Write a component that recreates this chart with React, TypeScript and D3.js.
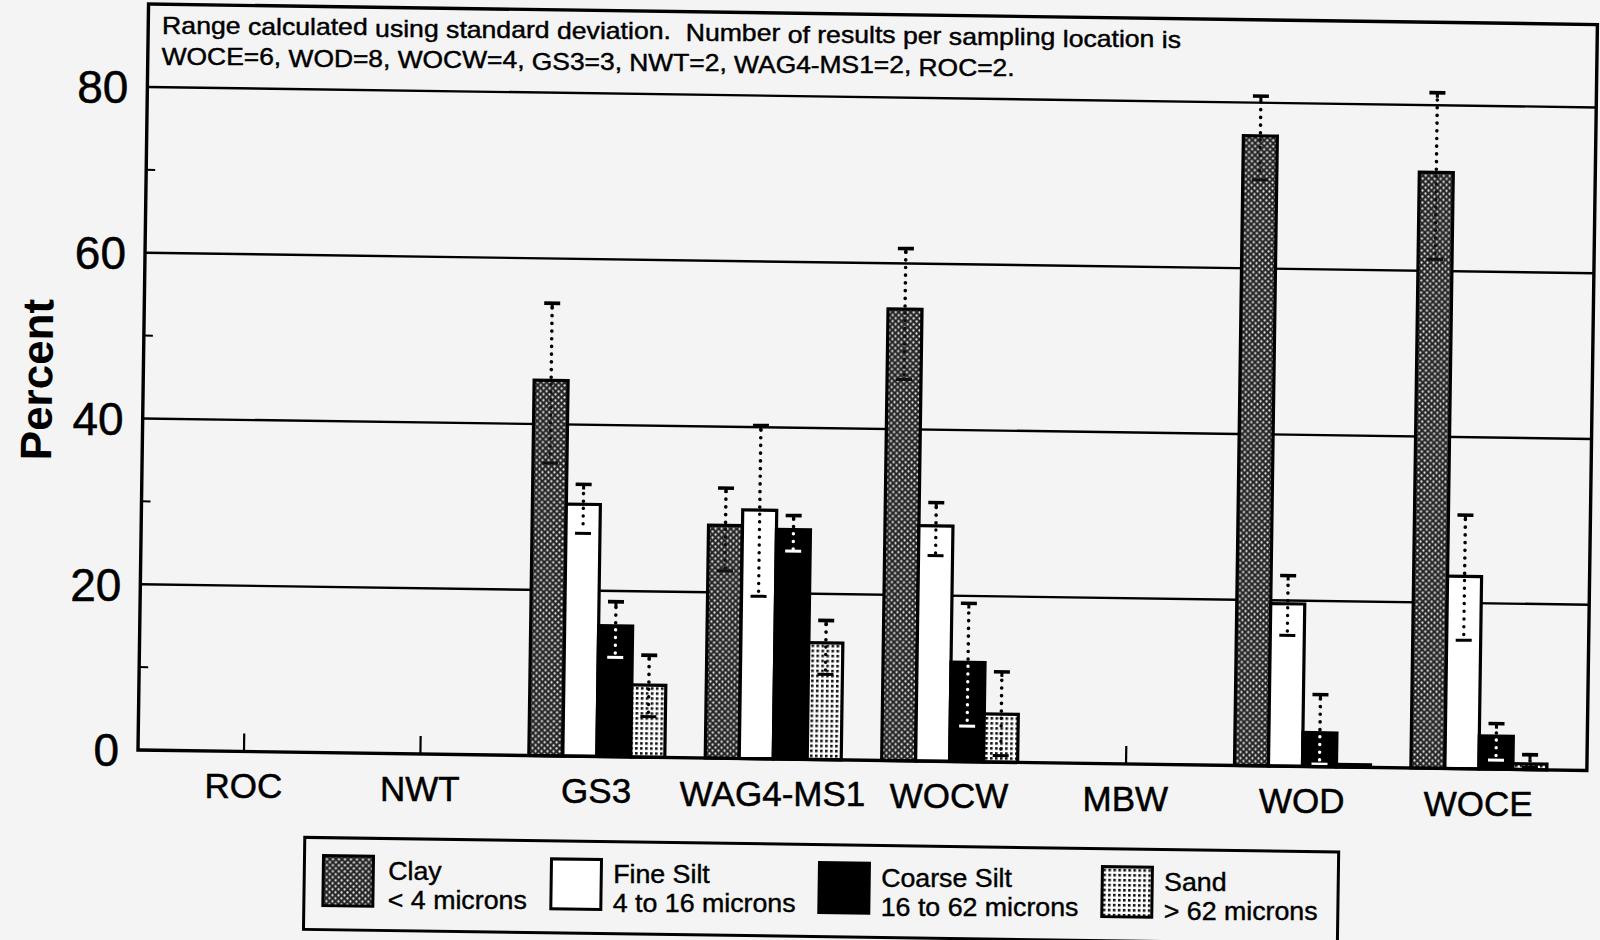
import React from "react";
import * as d3 from "d3";

// ---------- data ----------
const categories = ["ROC", "NWT", "GS3", "WAG4-MS1", "WOCW", "MBW", "WOD", "WOCE"];
const seriesNames = ["Clay", "Fine Silt", "Coarse Silt", "Sand"];
const seriesRanges = ["< 4 microns", "4 to 16 microns", "16 to 62 microns", "> 62 microns"];

// mean percent per location (null = no data)
const clayMean = [null, null, 45.3, 28.1, 54.5, null, 76.0, 71.9];
const clayHigh = [null, null, 54.6, 32.6, 61.8, null, 80.8, 81.5];
const clayLow = [null, null, 35.3, 22.6, 46.0, null, 70.7, 61.4];

const fineMean = [null, null, 30.4, 30.0, 28.4, null, 19.6, 23.2];
const fineHigh = [null, null, 32.8, 40.2, 31.2, null, 23.0, 30.6];
const fineLow = [null, null, 26.9, 19.6, 24.8, null, 15.8, 15.5];

const coarseMean = [null, null, 15.8, 27.7, 12.0, null, 4.1, 4.0];
const coarseHigh = [null, null, 18.7, 29.4, 19.1, null, 8.7, 5.5];
const coarseLow = [null, null, 12.0, 25.1, 4.3, null, 0.3, 1.1];

const sandMean = [null, null, 8.7, 14.1, 5.8, null, 0.3, 0.7];
const sandHigh = [null, null, 12.3, 16.8, 10.9, null, null, 1.8];
const sandLow = [null, null, 4.9, 10.3, 0.8, null, null, 0.3];

const yMajorTicks = [0, 20, 40, 60, 80];
const yMinorTicks = [10, 30, 50, 70];

const noteLines = [
  "Range calculated using standard deviation.  Number of results per sampling location is",
  "WOCE=6, WOD=8, WOCW=4, GS3=3, NWT=2, WAG4-MS1=2, ROC=2.",
];

const means = [clayMean, fineMean, coarseMean, sandMean];
const highs = [clayHigh, fineHigh, coarseHigh, sandHigh];
const lows = [clayLow, fineLow, coarseLow, sandLow];

// ---------- helpers ----------
let ctx: CanvasRenderingContext2D | null = null;
function measure(t: string, f: string): number {
  if (!ctx) ctx = document.createElement("canvas").getContext("2d");
  if (!ctx) return t.length * 10;
  ctx.font = f;
  return ctx.measureText(t).width;
}

// ---------- component ----------
export default function App() {
  const W = 1600;
  const H = 940;
  const left = 138;
  const right = 1587;
  const top = 4;
  const bottom = 750;
  const font = "'Liberation Sans', Arial, Helvetica, sans-serif";

  // scan skew of the original page
  const angle = 0.81;
  const th = (angle * Math.PI) / 180;
  const rot = (px: number, py: number): [number, number] => [
    left + (px - left) * Math.cos(th) - (py - bottom) * Math.sin(th),
    bottom + (px - left) * Math.sin(th) + (py - bottom) * Math.cos(th),
  ];

  const x = d3.scalePoint<string>().domain(categories).range([244, 1479]);
  const y = d3.scaleLinear().domain([0, 90]).range([bottom, top]);
  const sub = d3.scaleBand<string>().domain(seriesNames).range([-68, 68]).padding(0);
  const bw = sub.bandwidth();

  const fills = ["url(#clayPat)", "#ffffff", "#000000", "url(#sandPat)"];
  const innerErr = ["#111", "#000", "#fff", "#000"];

  const legendSwatchX = [325, 553, 821, 1104];
  const legendTextX = [390, 615, 883, 1166];

  // note: word by word along the skewed baseline
  const noteFont = 24;
  const noteFontStr = `${noteFont}px 'Liberation Sans'`;
  const noteX0 = 152;
  const noteBase = [33.6, 64.6];
  const noteWidth = [1019, 853];
  const noteWords: { t: string; x: number; y: number; w: number; k: string }[] = [];
  noteLines.forEach((str, li) => {
    const tokens = str.split(" ");
    const spaceW = measure(" ", noteFontStr);
    const natural = measure(str, noteFontStr);
    const f = noteWidth[li] / natural;
    let cx = 0;
    tokens.forEach((tk, ti) => {
      const w = tk ? measure(tk, noteFontStr) : 0;
      if (tk) {
        const [ax, ay] = rot(noteX0 + cx * f, noteBase[li]);
        noteWords.push({ t: tk, x: ax, y: ay, w: w * f, k: `n${li}_${ti}` });
      }
      cx += w + spaceW;
    });
  });

  const legendFont = 25;
  const legendFontStr = `${legendFont}px 'Liberation Sans'`;

  const textStroke = { stroke: "#000", strokeWidth: 0.5 };

  return (
    <svg
      width={W}
      height={H}
      style={{ position: "absolute", left: 0, top: 0, display: "block" }}
      xmlns="http://www.w3.org/2000/svg"
    >
      <defs>
        <pattern id="clayPat" width="6" height="6" patternUnits="userSpaceOnUse">
          <rect width="6" height="6" fill="#262626" />
          <circle cx="1.5" cy="1.5" r="1.15" fill="#e8e8e8" />
          <circle cx="4.5" cy="4.5" r="1.15" fill="#e8e8e8" />
        </pattern>
        <pattern id="sandPat" width="5" height="5" patternUnits="userSpaceOnUse">
          <rect width="5" height="5" fill="#ffffff" />
          <rect x="0" y="0" width="2.6" height="2.6" fill="#111" />
        </pattern>
      </defs>
      <rect x={0} y={0} width={W} height={H} fill="#f4f4f4" />

      <g transform={`rotate(${angle} ${left} ${bottom})`}>
        {/* gridlines */}
        {yMajorTicks
          .filter((t) => t > 0)
          .map((t) => (
            <line key={"g" + t} x1={left} x2={right} y1={y(t)} y2={y(t)} stroke="#000" strokeWidth={2.4} />
          ))}
        {yMinorTicks.map((t) => (
          <line key={"m" + t} x1={left} x2={left + 9} y1={y(t)} y2={y(t)} stroke="#000" strokeWidth={2} />
        ))}
        {/* category ticks */}
        {categories.map((c) => (
          <line key={"xt" + c} x1={x(c)} x2={x(c)} y1={bottom} y2={bottom - 18} stroke="#000" strokeWidth={2.2} />
        ))}

        {/* bars */}
        {categories.map((c, ci) =>
          seriesNames.map((s, si) => {
            const v = means[si][ci];
            if (v == null) return null;
            const bx = (x(c) as number) + (sub(s) as number);
            return (
              <rect
                key={"b" + c + s}
                x={bx}
                y={y(v)}
                width={bw}
                height={y(0) - y(v)}
                fill={fills[si]}
                stroke="#000"
                strokeWidth={3.2}
              />
            );
          })
        )}

        {/* error bars */}
        {categories.map((c, ci) =>
          seriesNames.map((s, si) => {
            const v = means[si][ci];
            const hi = highs[si][ci];
            const lo = lows[si][ci];
            if (v == null || hi == null || lo == null) return null;
            const cx = (x(c) as number) + (sub(s) as number) + bw / 2;
            const capW = 8;
            return (
              <g key={"e" + c + s}>
                <line x1={cx} x2={cx} y1={y(v) - 3} y2={y(hi) + 3} stroke="#000" strokeWidth={3.6}
                  strokeDasharray="0.1 7.6" strokeLinecap="round" />
                <line x1={cx - capW} x2={cx + capW} y1={y(hi)} y2={y(hi)} stroke="#000" strokeWidth={3.6} />
                <line x1={cx} x2={cx} y1={y(hi)} y2={y(hi) + 5} stroke="#000" strokeWidth={3} />
                <line x1={cx} x2={cx} y1={y(v) + 4} y2={y(lo) - 2} stroke={innerErr[si]} strokeWidth={3.4}
                  strokeDasharray="0.1 7.6" strokeLinecap="round" />
                <line x1={cx - capW} x2={cx + capW} y1={y(lo)} y2={y(lo)} stroke={innerErr[si]} strokeWidth={3} />
              </g>
            );
          })
        )}

        {/* frame */}
        <rect x={left} y={top} width={right - left} height={bottom - top} fill="none" stroke="#000" strokeWidth={3.4} />

        {/* legend box and swatches */}
        <rect x={306} y={835} width={1034} height={92} fill="none" stroke="#000" strokeWidth={3} />
        {seriesNames.map((s, i) => (
          <rect key={"sw" + s} x={legendSwatchX[i]} y={853} width={50} height={50} fill={fills[i]} stroke="#000" strokeWidth={3} />
        ))}
      </g>

      {/* texts, placed at the skewed positions */}
      <g fontFamily={font} fill="#000">
        {noteWords.map((wd) => (
          <text
            key={wd.k}
            x={wd.x}
            y={wd.y}
            fontSize={noteFont}
            textLength={wd.w}
            lengthAdjust="spacingAndGlyphs"
            {...textStroke}
            strokeWidth={0.45}
          >
            {wd.t}
          </text>
        ))}

        {yMajorTicks.map((t) => {
          const [ax, ay] = rot(119, y(t));
          return (
            <text key={"yl" + t} x={ax} y={ay} dy="0.36em" textAnchor="end" fontSize={46} {...textStroke}>
              {t}
            </text>
          );
        })}
        {(() => {
          const [ax, ay] = rot(47, 381);
          return (
            <text
              transform={`translate(${ax}, ${ay}) rotate(${-90 + angle})`}
              textAnchor="middle"
              fontSize={44}
              fontWeight="bold"
            >
              Percent
            </text>
          );
        })()}

        {categories.map((c) => {
          const [ax, ay] = rot(x(c) as number, 797);
          return (
            <text key={"xl" + c} x={ax} y={ay} textAnchor="middle" fontSize={35} {...textStroke}>
              {c}
            </text>
          );
        })}

        {seriesNames.map((s, i) => {
          const [ax1, ay1] = rot(legendTextX[i], 876);
          const [ax2, ay2] = rot(legendTextX[i], 905);
          return (
            <g key={"lt" + s}>
              <text x={ax1} y={ay1} fontSize={legendFont} textLength={measure(s, legendFontStr) * 1.07}
                lengthAdjust="spacingAndGlyphs" {...textStroke} strokeWidth={0.4}>
                {s}
              </text>
              <text x={ax2} y={ay2} fontSize={legendFont} textLength={measure(seriesRanges[i], legendFontStr) * 1.07}
                lengthAdjust="spacingAndGlyphs" {...textStroke} strokeWidth={0.4}>
                {seriesRanges[i]}
              </text>
            </g>
          );
        })}
      </g>
    </svg>
  );
}
